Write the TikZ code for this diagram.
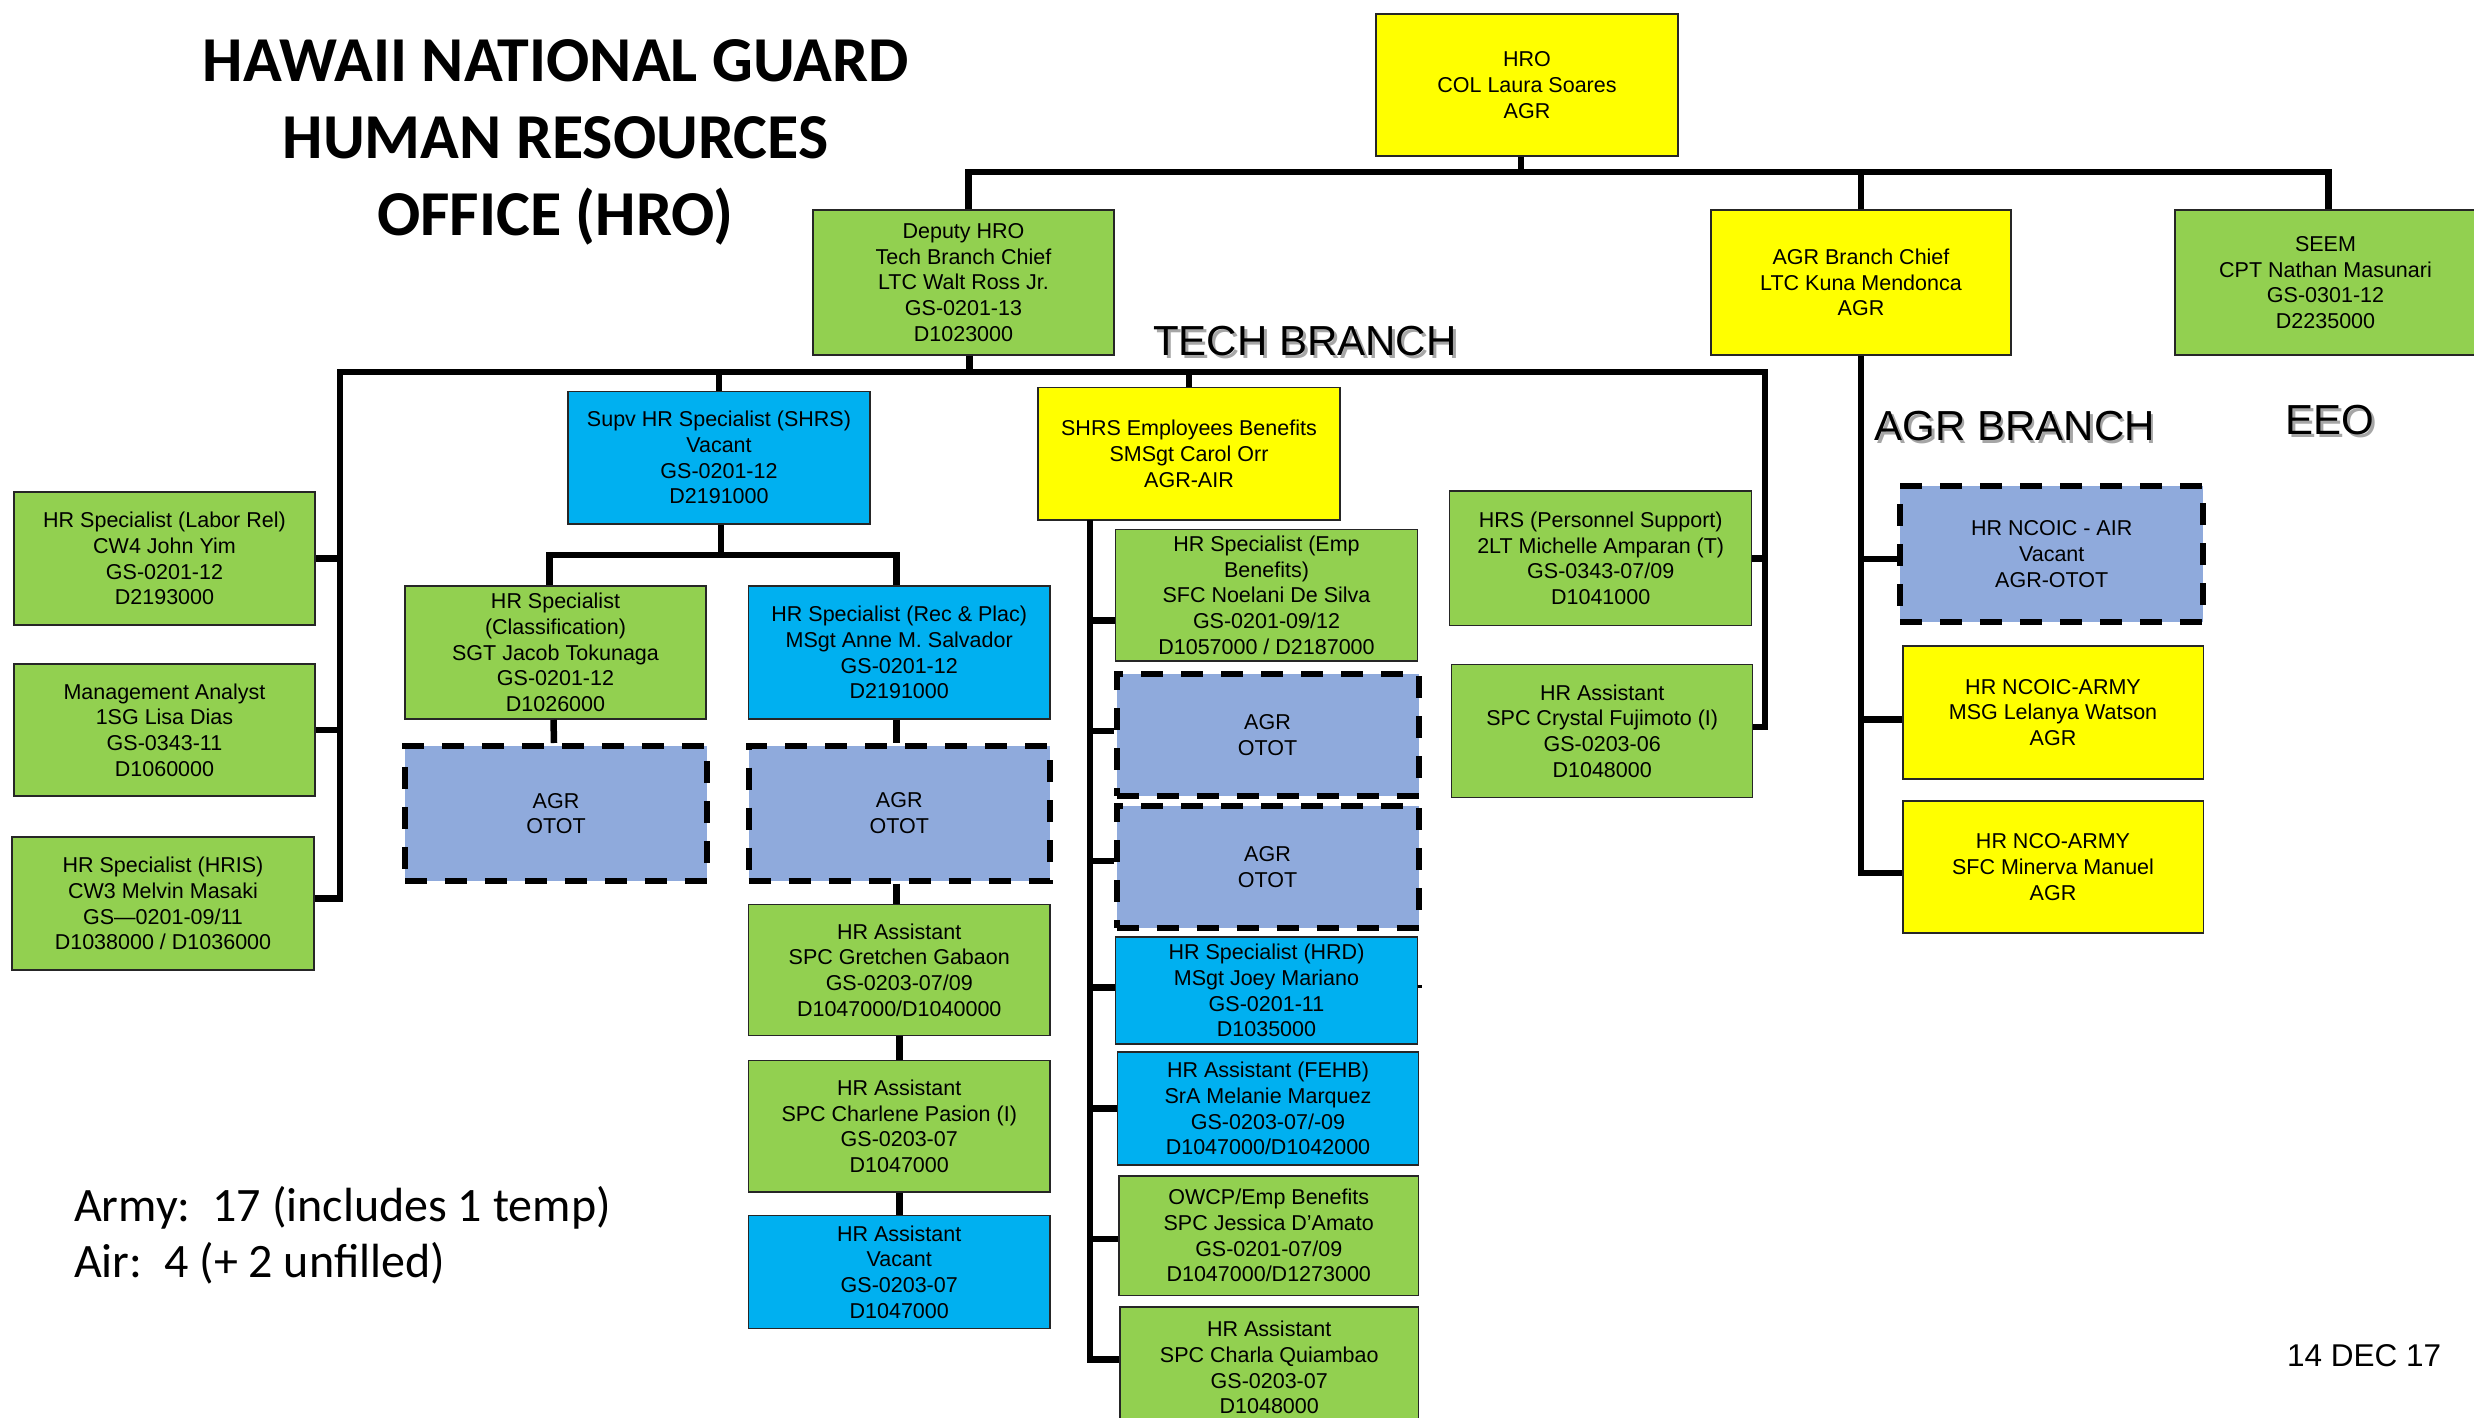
\documentclass[tikz,border=0pt]{standalone}
\usepackage{fontspec}
\setmainfont{Liberation Sans}
\newfontfamily\calfont{Carlito}
\definecolor{gr}{HTML}{92D050}
\definecolor{ye}{HTML}{FFFF00}
\definecolor{bl}{HTML}{00B0F0}
\definecolor{gy}{HTML}{8FAADC}
\newcommand{\boxfs}{\fontsize{21.5}{25.7}\selectfont}
\begin{document}
\begin{tikzpicture}[x=1pt,y=-1pt,
  sz/.style 2 args={minimum width=#1, minimum height=#2},
  base/.style={rectangle, inner sep=0pt, align=center, font=\boxfs},
  gbox/.style={base, draw=black!85, line width=1.5pt, fill=gr},
  ybox/.style={base, draw=black!85, line width=1.5pt, fill=ye},
  bbox/.style={base, draw=black!85, line width=1.5pt, fill=bl},
  dbox/.style={base, draw=black, line width=6pt, dash pattern=on 22pt off 18pt, fill=gy},
  conn/.style={draw=black, line width=6.5pt, line join=miter},
  ttl/.style={font=\calfont\bfseries\fontsize{64}{76}\selectfont, anchor=base, inner sep=0pt},
  brn/.style={font=\fontsize{42}{50}\selectfont, anchor=base west, inner sep=0pt},
  shd/.style={brn, text=black!35},
  note/.style={font=\calfont\fontsize{48}{56}\selectfont, anchor=base west, inner sep=0pt}
]
\useasboundingbox (0,0) rectangle (2474,1418);
\fill[white] (0,0) rectangle (2474,1418);

% title
\node[ttl] (t1) at (555.5,82) {HAWAII NATIONAL GUARD};
\node[ttl] (t2) at (555.5,158) {HUMAN RESOURCES};
\node[ttl] (t3) at (555.5,235) {OFFICE (HRO)};

% branch labels with shadow
\node[shd] (tbs) at (1156,358) {TECH BRANCH};
\node[brn] (tb) at (1153,355) {TECH BRANCH};
\node[shd] (abs) at (1877,443) {AGR BRANCH};
\node[brn] (ab) at (1874.5,440) {AGR BRANCH};
\node[shd] (ees) at (2288,437) {EEO};
\node[brn] (ee) at (2285.5,434) {EEO};

% notes
\node[note] (army) at (74,1221) {Army:\ \ 17 (includes 1 temp)};
\node[note] (air) at (74,1277) {Air:\ \ 4 (+ 2 unfilled)};
\node[font=\fontsize{31.5}{36}\selectfont, anchor=base west, inner sep=0pt] (date) at (2287,1366) {14 DEC 17};

% top level
\node[ybox,sz={302}{142}] (hro) at (1527,85) {HRO\\COL Laura Soares\\AGR};
\node[gbox,sz={301}{145}] (dep) at (963.5,282.5) {Deputy HRO\\Tech Branch Chief\\LTC Walt Ross Jr.\\GS-0201-13\\D1023000};
\node[ybox,sz={300}{145}] (agrc) at (1861,282.5) {AGR Branch Chief\\LTC Kuna Mendonca\\AGR};
\node[gbox,sz={301}{145}] (seem) at (2325.5,282.5) {SEEM\\CPT Nathan Masunari\\GS-0301-12\\D2235000};

% left column
\node[gbox,sz={301}{133}] (labor) at (164.5,558.5) {HR Specialist (Labor Rel)\\CW4 John Yim\\GS-0201-12\\D2193000};
\node[gbox,sz={301}{132}] (mgmt) at (164.5,730) {Management Analyst\\1SG Lisa Dias\\GS-0343-11\\D1060000};
\node[gbox,sz={302}{133}] (hris) at (163,903.5) {HR Specialist (HRIS)\\CW3 Melvin Masaki\\GS—0201-09/11\\D1038000 / D1036000};

% SHRS group
\node[bbox,sz={302}{132.5}] (shrs) at (719,457.75) {Supv HR Specialist (SHRS)\\Vacant\\GS-0201-12\\D2191000};
\node[gbox,sz={301}{133}] (class) at (555.5,652.5) {HR Specialist\\(Classification)\\SGT Jacob Tokunaga\\GS-0201-12\\D1026000};
\node[bbox,sz={301.5}{133}] (rec) at (899.25,652.5) {HR Specialist (Rec \& Plac)\\MSgt Anne M. Salvador\\GS-0201-12\\D2191000};
\node[dbox,sz={302}{135}] (otot1) at (556,813.5) {AGR\\OTOT};
\node[dbox,sz={301.5}{135}] (otot2) at (899.25,813) {AGR\\OTOT};
\node[gbox,sz={301.5}{131}] (gret) at (899.25,970) {HR Assistant\\SPC Gretchen Gabaon\\GS-0203-07/09\\D1047000/D1040000};
\node[gbox,sz={301.5}{131.5}] (charl) at (899.25,1126.25) {HR Assistant\\SPC Charlene Pasion (I)\\GS-0203-07\\D1047000};
\node[bbox,sz={301.5}{113}] (vac) at (899.25,1272) {HR Assistant\\Vacant\\GS-0203-07\\D1047000};

% SHRS Employee Benefits group
\node[ybox,sz={302}{132.5}] (shrseb) at (1189,453.75) {SHRS Employees Benefits\\SMSgt Carol Orr\\AGR-AIR};
\node[gbox,sz={302}{131.5}] (empb) at (1266.5,595.25) {HR Specialist (Emp\\Benefits)\\SFC Noelani De Silva\\GS-0201-09/12\\D1057000 / D2187000};
\node[dbox,sz={302}{122}] (otot3) at (1267.5,735) {AGR\\OTOT};
\node[dbox,sz={302}{122}] (otot4) at (1267.5,867) {AGR\\OTOT};
\node[bbox,sz={302}{107}] (hrd) at (1266.5,990.5) {HR Specialist (HRD)\\MSgt Joey Mariano\\GS-0201-11\\D1035000};
\node[bbox,sz={301}{113}] (fehb) at (1268,1108.5) {HR Assistant (FEHB)\\SrA Melanie Marquez\\GS-0203-07/-09\\D1047000/D1042000};
\node[gbox,sz={299.5}{119.5}] (owcp) at (1268.75,1235.75) {OWCP/Emp Benefits\\SPC Jessica D’Amato\\GS-0201-07/09\\D1047000/D1273000};
\node[gbox,sz={298.5}{121}] (charla) at (1269.25,1367.5) {HR Assistant\\SPC Charla Quiambao\\GS-0203-07\\D1048000};

% right of tech branch
\node[gbox,sz={302}{134.5}] (hrsps) at (1600.7,558.3) {HRS (Personnel Support)\\2LT Michelle Amparan (T)\\GS-0343-07/09\\D1041000};
\node[gbox,sz={301}{133}] (crys) at (1602.2,731) {HR Assistant\\SPC Crystal Fujimoto (I)\\GS-0203-06\\D1048000};

% AGR branch
\node[dbox,sz={303}{136}] (ncoair) at (2051.7,554) {HR NCOIC - AIR\\Vacant\\AGR-OTOT};
\node[ybox,sz={300.5}{133}] (ncoarmy) at (2053,712.5) {HR NCOIC-ARMY\\MSG Lelanya Watson\\AGR};
\node[ybox,sz={300.5}{132}] (ncoarmy2) at (2053,867) {HR NCO-ARMY\\SFC Minerva Manuel\\AGR};

% ---------- connectors ----------
\coordinate (tbar) at (0,172);
\coordinate (tl) at (340,372);
\coordinate (tr) at (1765,372);
\coordinate (sbar) at (0,555);
\coordinate (ebtop) at (1090,520);

% top bar
\draw[conn] ([xshift=5pt]dep.north) |- ([xshift=3pt]seem.north |- tbar) -- ([xshift=3pt]seem.north);
\draw[conn] ([xshift=-6pt]hro.south) -- ([xshift=-6pt]hro.south |- tbar);
\draw[conn] (agrc.north) -- (agrc.north |- tbar);

% tech bar
\draw[conn] ([yshift=5pt]hris.east) -| (tl) -- (tr) |- ([yshift=4pt]crys.east);
\draw[conn] ([xshift=6pt]dep.south) -- ([xshift=6pt]dep.south |- tl);
\draw[conn] (labor.east) -- (labor.east -| tl);
\draw[conn] (mgmt.east) -- (mgmt.east -| tl);
\draw[conn] (hrsps.east) -- (hrsps.east -| tr);
\draw[conn] (shrs.north) -- (shrs.north |- tl);
\draw[conn] (shrseb.north) -- (shrseb.north |- tl);

% SHRS sub tree
\draw[conn] ([xshift=2pt]shrs.south) -- ([xshift=2pt]shrs.south |- sbar);
\draw[conn] ([xshift=-6pt]class.north) |- ([xshift=-3pt]rec.north |- sbar) -- ([xshift=-3pt]rec.north);
\draw[conn] ([xshift=-2pt]class.south) -- ([xshift=-2pt]otot1.north);
\draw[conn] ([xshift=-3pt]rec.south) -- ([xshift=-3pt]otot2.north);
\draw[conn] ([xshift=-3pt]otot2.south) -- ([xshift=-3pt]gret.north);
\draw[conn] (gret.south) -- (charl.north);
\draw[conn] (charl.south) -- (vac.north);

% SHRS employee benefits spine
\draw[conn] (ebtop) |- ([yshift=8pt]charla.west);
\draw[conn] ([yshift=-25pt]empb.west) -- ([yshift=-25pt]empb.west -| ebtop);
\draw[conn] ([yshift=4pt]otot3.west) -- ([yshift=4pt]otot3.west -| ebtop);
\draw[conn] ([yshift=6pt]otot4.west) -- ([yshift=6pt]otot4.west -| ebtop);
\draw[conn] ([yshift=3pt]hrd.west) -- ([yshift=3pt]hrd.west -| ebtop);
\draw[conn] (fehb.west) -- (fehb.west -| ebtop);
\draw[conn] ([yshift=-3pt]owcp.west) -- ([yshift=-3pt]owcp.west -| ebtop);
\draw[black, line width=3.5pt] ([yshift=4pt]hrd.east) -- ++(4,0);

% AGR spine
\draw[conn] (agrc.south) |- ([yshift=-6pt]ncoarmy2.west);
\draw[conn] ([yshift=-5pt]ncoair.west) -- ([yshift=-5pt]ncoair.west -| agrc.south);
\draw[conn] ([yshift=-7pt]ncoarmy.west) -- ([yshift=-7pt]ncoarmy.west -| agrc.south);
\end{tikzpicture}
\end{document}
